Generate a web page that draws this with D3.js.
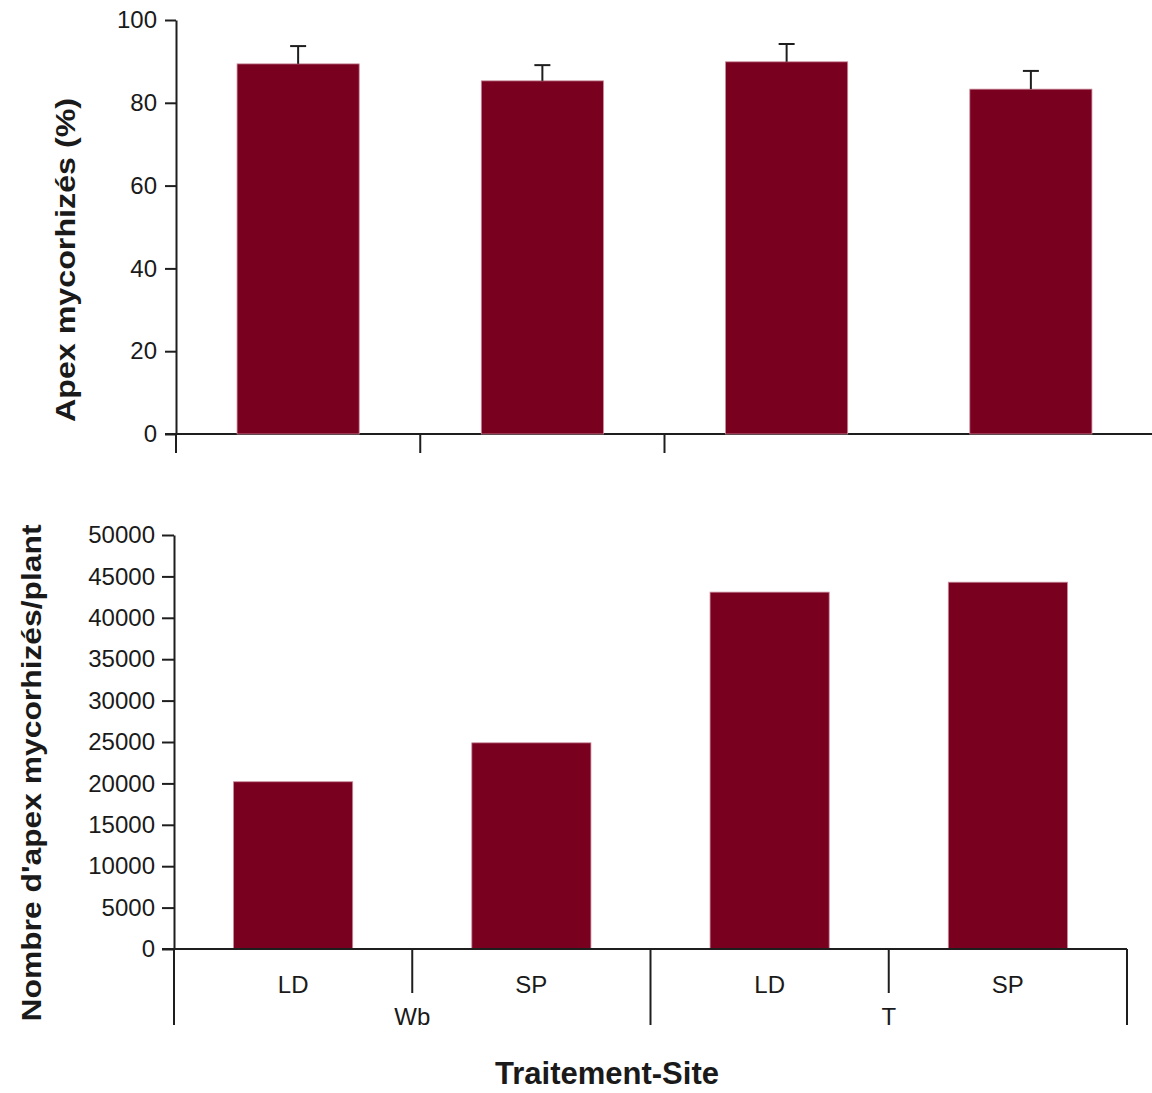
<!DOCTYPE html>
<html>
<head>
<meta charset="utf-8">
<script src="https://cdn.jsdelivr.net/npm/d3@7"></script>
<style>
  html, body { margin: 0; padding: 0; background: #fff; }
  svg { display: block; }
  text { font-family: "Liberation Sans", Arial, sans-serif; fill: #1a1a1a; }
</style>
</head>
<body>
<svg id="chart" width="1152" height="1093"></svg>
<script>
// Treatments (LD, SP) nested inside sites (Wb, T)
const sites = ["Wb", "T"];
const treatments = ["LD", "SP"];
const categories = ["Wb-LD", "Wb-SP", "T-LD", "T-SP"];

// Percentage of mycorrhizal root tips, with standard error
const pctMycorrhizal = [89.4, 85.3, 89.9, 83.3];
const pctError = [4.3, 3.8, 4.3, 4.4];
const pctTicks = [0, 20, 40, 60, 80, 100];

// Number of mycorrhizal root tips per plant
const countPerPlant = [20200, 24900, 43100, 44300];
const countTicks = [0, 5000, 10000, 15000, 20000, 25000, 30000, 35000, 40000, 45000, 50000];

const barColor = "#7a0020";
const inkColor = "#1e1e1e";

const svg = d3.select("#chart");

function styleAxis(g) {
  g.selectAll("path.domain").attr("stroke", inkColor).attr("stroke-width", 2);
  g.selectAll(".tick line").attr("stroke", inkColor).attr("stroke-width", 2);
  g.selectAll(".tick text")
    .attr("font-size", 24)
    .attr("font-family", "'Liberation Sans', Arial, sans-serif")
    .attr("fill", "#1a1a1a");
}

// ---------- Upper panel: % mycorrhizal tips ----------
const xTop = d3.scaleBand().domain(categories).range([176, 1153]).paddingInner(0.5).paddingOuter(0.25);
const yTop = d3.scaleLinear().domain([0, 100]).range([434, 20]);

const upper = svg.append("g");

upper.append("g")
  .attr("transform", "translate(176,0)")
  .call(d3.axisLeft(yTop).tickValues(pctTicks).tickSize(11).tickPadding(8).tickSizeOuter(0))
  .call(styleAxis);

// baseline and category separators
const topStep = xTop.step();
const topStart = xTop.range()[0];
upper.append("line")
  .attr("x1", 165).attr("x2", 1152)
  .attr("y1", yTop(0)).attr("y2", yTop(0))
  .attr("stroke", inkColor).attr("stroke-width", 2);
upper.selectAll("line.sep")
  .data([0, 1, 2])
  .join("line")
  .attr("class", "sep")
  .attr("x1", i => topStart + i * topStep)
  .attr("x2", i => topStart + i * topStep)
  .attr("y1", yTop(0)).attr("y2", yTop(0) + 19)
  .attr("stroke", inkColor).attr("stroke-width", 2);

upper.selectAll("rect.bar")
  .data(categories)
  .join("rect")
  .attr("class", "bar")
  .attr("x", d => xTop(d))
  .attr("width", xTop.bandwidth())
  .attr("y", (d, i) => yTop(pctMycorrhizal[i]))
  .attr("height", (d, i) => yTop(0) - yTop(pctMycorrhizal[i]))
  .attr("fill", barColor)
  .attr("stroke", "#c98a9a").attr("stroke-width", 0.8);

// error bars (upper whisker only)
const errG = upper.selectAll("g.err").data(categories).join("g").attr("class", "err");
errG.append("line")
  .attr("x1", d => xTop(d) + xTop.bandwidth() / 2)
  .attr("x2", d => xTop(d) + xTop.bandwidth() / 2)
  .attr("y1", (d, i) => yTop(pctMycorrhizal[i]))
  .attr("y2", (d, i) => yTop(pctMycorrhizal[i] + pctError[i]))
  .attr("stroke", inkColor).attr("stroke-width", 2);
errG.append("line")
  .attr("x1", d => xTop(d) + xTop.bandwidth() / 2 - 8)
  .attr("x2", d => xTop(d) + xTop.bandwidth() / 2 + 8)
  .attr("y1", (d, i) => yTop(pctMycorrhizal[i] + pctError[i]))
  .attr("y2", (d, i) => yTop(pctMycorrhizal[i] + pctError[i]))
  .attr("stroke", inkColor).attr("stroke-width", 2);

upper.append("text")
  .attr("transform", `translate(75,260) rotate(-90)`)
  .attr("text-anchor", "middle")
  .attr("font-weight", "bold")
  .attr("font-size", 28)
  .attr("textLength", 324)
  .attr("lengthAdjust", "spacingAndGlyphs")
  .text("Apex mycorhizés (%)");

// ---------- Lower panel: mycorrhizal tips per plant ----------
const xBot = d3.scaleBand().domain(categories).range([174, 1127]).paddingInner(0.5).paddingOuter(0.25);
const yBot = d3.scaleLinear().domain([0, 50000]).range([949, 535]);

const lower = svg.append("g");

lower.append("g")
  .attr("transform", "translate(174,0)")
  .call(d3.axisLeft(yBot).tickValues(countTicks).tickFormat(d3.format("d")).tickSize(12).tickPadding(7).tickSizeOuter(0))
  .call(styleAxis);

lower.selectAll("rect.bar")
  .data(categories)
  .join("rect")
  .attr("class", "bar")
  .attr("x", d => xBot(d))
  .attr("width", xBot.bandwidth())
  .attr("y", (d, i) => yBot(countPerPlant[i]))
  .attr("height", (d, i) => yBot(0) - yBot(countPerPlant[i]))
  .attr("fill", barColor)
  .attr("stroke", "#c98a9a").attr("stroke-width", 0.8);

// baseline
const botStep = xBot.step();
const botStart = xBot.range()[0];
lower.append("line")
  .attr("x1", 162).attr("x2", 1127)
  .attr("y1", yBot(0)).attr("y2", yBot(0))
  .attr("stroke", inkColor).attr("stroke-width", 2);

// boundaries: long at site edges, short between treatments within a site
const boundaries = d3.range(categories.length + 1);
lower.selectAll("line.sep")
  .data(boundaries)
  .join("line")
  .attr("class", "sep")
  .attr("x1", i => botStart + i * botStep)
  .attr("x2", i => botStart + i * botStep)
  .attr("y1", yBot(0))
  .attr("y2", i => yBot(0) + (i % treatments.length === 0 ? 76 : 44))
  .attr("stroke", inkColor).attr("stroke-width", 2);

// treatment labels
lower.selectAll("text.treat")
  .data(categories)
  .join("text")
  .attr("class", "treat")
  .attr("x", d => xBot(d) + xBot.bandwidth() / 2)
  .attr("y", 993)
  .attr("text-anchor", "middle")
  .attr("font-size", 24)
  .text(d => d.split("-")[1]);

// site labels
lower.selectAll("text.site")
  .data(sites)
  .join("text")
  .attr("class", "site")
  .attr("x", (s, i) => botStart + (i * treatments.length + 1) * botStep)
  .attr("y", 1025)
  .attr("text-anchor", "middle")
  .attr("font-size", 24)
  .text(s => s);

lower.append("text")
  .attr("transform", `translate(41,773) rotate(-90)`)
  .attr("text-anchor", "middle")
  .attr("font-weight", "bold")
  .attr("font-size", 28)
  .attr("textLength", 497)
  .attr("lengthAdjust", "spacingAndGlyphs")
  .text("Nombre d'apex mycorhizés/plant");

svg.append("text")
  .attr("x", 607)
  .attr("y", 1084)
  .attr("text-anchor", "middle")
  .attr("font-weight", "bold")
  .attr("font-size", 31)
  .text("Traitement-Site");
</script>
</body>
</html>
